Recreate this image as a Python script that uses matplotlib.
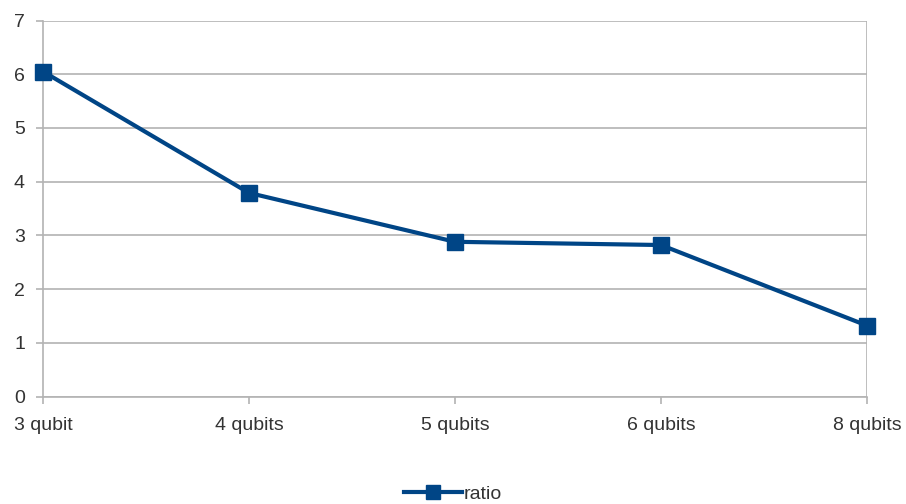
import numpy as np
import matplotlib.pyplot as plt

plt.rcParams['font.family'] = ['Liberation Sans', 'DejaVu Sans']

labels = ['3 qubit', '4 qubits', '5 qubits', '6 qubits', '8 qubits']
ratio = [6.05, 3.79, 2.88, 2.82, 1.32]

blue = '#004586'
grid_c = '#b3b3b3'
text_c = '#333333'

fig = plt.figure(figsize=(9.06, 5.04), dpi=100)
ax = fig.add_axes([43 / 906, 107.5 / 504, 824 / 906, 376 / 504])

x = np.arange(len(labels))
ax.plot(x, ratio, color=blue, lw=3, marker='s', ms=12, label='ratio',
        zorder=3, clip_on=False)

ax.set_xlim(0, len(labels) - 1)
ax.set_ylim(0, 7)
ax.set_yticks(range(8))
ax.set_xticks(x)
ax.set_xticklabels(labels)
ax.yaxis.grid(True, color=grid_c, lw=1.2)
ax.set_axisbelow(True)

for s in ['top', 'right']:
    ax.spines[s].set_visible(False)
for s in ['left', 'bottom']:
    ax.spines[s].set_color(grid_c)
    ax.spines[s].set_linewidth(1.2)
ax.tick_params(colors=grid_c, labelcolor=text_c, labelsize=14, length=5, width=1.2)
ax.tick_params(axis='y', pad=8)
ax.tick_params(axis='x', pad=10)

# vertical line at the last category
ax.axvline(len(labels) - 1, color=grid_c, lw=1.2, zorder=1)

leg = fig.legend(loc='center', bbox_to_anchor=(0.5, 10 / 504), frameon=False,
                 fontsize=14, handlelength=3, handletextpad=0.1, markerscale=0.8)
for t in leg.get_texts():
    t.set_color(text_c)

fig.savefig('out.png', dpi=100)
